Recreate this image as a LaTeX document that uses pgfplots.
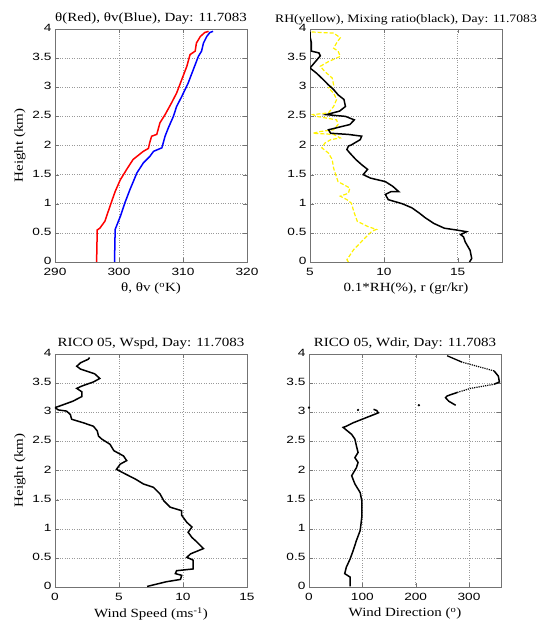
\documentclass[border=0pt]{standalone}
\usepackage{fontspec}
\setmainfont{Liberation Serif}[FakeStretch=1.2]
\setsansfont{Liberation Sans}[FakeStretch=1.3]
\usepackage{pgfplots}
\pgfplotsset{compat=1.18}

\pgfplotsset{
  sonde/.style={
    scale only axis, width=192pt, height=233pt, anchor=south west,
    ymin=0, ymax=4, ytick={0,0.5,...,4},
    yticklabels={0,0.5,1,1.5,2,2.5,3,3.5,4},
    grid=major,
    major grid style={dotted, draw=black!40, line width=0.5pt},
    axis line style={draw=black!55, line width=0.6pt},
    tick style={draw=black!55},
    tick align=inside, major tick length=4pt,
    tick label style={font=\sffamily\fontsize{10.5}{12}\selectfont},
    /pgf/number format/assume math mode=true,
    xticklabel style={yshift=-3pt},
    yticklabel style={yshift=1pt},
    label style={font=\fontsize{12.5}{14}\selectfont},
    title style={font=\fontsize{12.5}{14}\selectfont, yshift=-5pt},
  }
}

\begin{document}
\begin{tikzpicture}
\useasboundingbox (0,0) rectangle (541pt,622pt);

% potential temperature
\begin{axis}[sonde, at={(55pt,360pt)},
  xmin=290, xmax=320, xtick={290,300,310,320},
  title={θ(Red), θv(Blue), Day: 11.7083},
  xlabel={θ, θv (\textsuperscript{o}K)},
  ylabel={Height (km)}]
\addplot[red, line width=1.5pt] coordinates {
 (296.5,0) (296.6,0.55) (297.0,0.58) (297.8,0.70) (298.6,0.96) (299.4,1.21)
 (300.2,1.41) (301.2,1.59) (302.2,1.76) (303.8,1.90) (304.6,1.95) (304.8,2.05)
 (305.1,2.16) (305.9,2.19) (306.4,2.39) (307.2,2.53) (308.2,2.73) (309.0,2.90)
 (309.8,3.13) (310.6,3.36) (311.1,3.56) (311.9,3.62) (312.1,3.76) (312.7,3.87)
 (313.4,3.94) (314.0,3.96)};
\addplot[blue, line width=1.5pt] coordinates {
 (299.3,0) (299.4,0.56) (300.2,0.78) (300.9,1.01) (301.7,1.24) (302.8,1.53)
 (303.8,1.70) (304.8,1.81) (305.4,1.90) (306.7,1.96) (307.2,2.16) (307.7,2.30)
 (308.5,2.50) (309.0,2.67) (309.8,2.84) (310.8,3.07) (311.6,3.30) (312.4,3.53)
 (312.9,3.62) (313.2,3.76) (313.7,3.87) (314.2,3.94) (314.7,3.96)};
\end{axis}

% RH and mixing ratio
\begin{axis}[sonde, at={(310pt,360pt)},
  xmin=5, xmax=18, xtick={5,10,15},
  title style={font=\fontsize{11.4}{14}\selectfont},
  title={RH(yellow), Mixing ratio(black), Day: 11.7083},
  xlabel={0.1*RH(\%), r (gr/kr)}]
\addplot[yellow, line width=1.2pt, dash pattern=on 4pt off 2pt] coordinates {
 (7.6,0) (7.5,0.04) (7.95,0.21) (8.6,0.38) (9.2,0.53) (9.5,0.56) (8.9,0.61)
 (8.2,0.70) (8.0,0.84) (7.8,1.01) (7.5,1.07) (7.05,1.13) (7.6,1.18) (7.7,1.27)
 (6.9,1.38) (6.7,1.53) (6.6,1.61) (6.5,1.76) (6.25,1.87) (5.8,1.96) (6.0,2.04)
 (6.4,2.10) (7.05,2.13) (6.6,2.19) (5.2,2.21) (5.7,2.24) (6.6,2.27) (6.9,2.36)
 (6.8,2.44) (5.45,2.50) (5.2,2.53) (6.25,2.56) (6.6,2.67) (6.8,2.79) (6.6,2.90)
 (6.25,2.99) (6.6,3.04) (6.5,3.16) (6.0,3.27) (5.7,3.36) (6.25,3.44) (7.05,3.53)
 (6.9,3.62) (6.6,3.67) (6.8,3.76) (7.05,3.85) (6.6,3.93) (5.7,3.94) (5.1,3.95)};
\addplot[black, line width=1.5pt] coordinates {
 (15.8,0) (15.95,0.06) (15.84,0.20) (15.5,0.35) (15.4,0.43) (15.2,0.47) (15.6,0.52)
 (14.9,0.55) (14.1,0.58) (13.4,0.66) (12.8,0.76) (12.4,0.84) (11.9,0.93) (11.25,1.00)
 (10.3,1.07) (10.1,1.16) (10.5,1.21) (11.0,1.21) (10.6,1.30) (10.1,1.38)
 (9.1,1.44) (8.6,1.50) (8.9,1.59) (8.5,1.67) (8.1,1.76) (7.7,1.87) (7.5,1.93)
 (7.6,1.99) (7.8,2.01) (8.4,2.10) (8.5,2.16) (7.6,2.19) (6.4,2.21) (6.25,2.27)
 (7.7,2.36) (8.0,2.44) (7.4,2.50) (6.1,2.53) (7.0,2.59) (7.4,2.67) (7.3,2.79)
 (6.9,2.87) (6.6,2.96) (6.25,3.04) (5.9,3.13) (5.45,3.24) (5.0,3.33) (5.3,3.42)
 (5.7,3.54) (5.6,3.59) (5.1,3.62) (5.1,3.76) (5.0,3.87) (5.0,3.95)};
\end{axis}

% wind speed
\begin{axis}[sonde, at={(55pt,35pt)},
  xmin=0, xmax=15, xtick={0,5,10,15},
  title={RICO 05, Wspd, Day: 11.7083},
  xlabel={Wind Speed (ms\textsuperscript{-1})},
  ylabel={Height (km)}]
\addplot[black, line width=1.5pt] coordinates {
 (7.2,0.01) (8.7,0.09) (9.8,0.13) (9.9,0.20) (9.4,0.23) (9.5,0.28) (10.8,0.31)
 (10.8,0.46) (10.3,0.51) (10.6,0.57) (11.6,0.66) (11.1,0.77) (10.7,0.85)
 (10.4,0.94) (10.7,1.03) (10.3,1.11) (9.9,1.23) (9.9,1.31) (9.0,1.37) (8.5,1.48)
 (8.2,1.60) (7.7,1.71) (6.9,1.77) (6.3,1.85) (5.5,1.94) (4.8,2.02) (5.1,2.11)
 (5.6,2.17) (5.35,2.25) (4.6,2.34) (4.3,2.45) (3.65,2.54) (3.4,2.59) (3.3,2.68)
 (3.0,2.76) (2.2,2.82) (1.3,2.88) (1.2,2.96) (0.9,3.02) (0.26,3.04) (0,3.08)
 (0.4,3.11) (1.4,3.19) (2.1,3.27) (2.1,3.35) (1.7,3.41) (2.1,3.45) (3.0,3.52)
 (3.5,3.58) (3.1,3.66) (2.0,3.74) (1.7,3.79) (2.0,3.85) (2.6,3.91) (2.7,3.94)};
\end{axis}

% wind direction
\begin{axis}[sonde, at={(309pt,35pt)},
  xmin=0, xmax=360, xtick={0,100,200,300},
  title={RICO 05, Wdir, Day: 11.7083},
  xlabel={Wind Direction (\textsuperscript{o})}]
\addplot[black, line width=1.5pt] coordinates {
 (77,0.01) (77,0.17) (67,0.23) (70,0.34) (77,0.48) (83,0.63) (89,0.80) (96,0.97)
 (99,1.20) (99,1.48) (96,1.62) (86,1.77) (80,1.91) (89,2.05) (92,2.14) (86,2.22)
 (92,2.31) (89,2.42) (86,2.54) (80,2.62) (64,2.74) (70,2.76) (83,2.82) (108,2.91)
 (130,2.99) (127,3.03) (121,3.05)};
\addplot[black, line width=1.5pt] coordinates {
 (275,3.12) (262,3.19) (256,3.25) (259,3.28) (278,3.34)};
\addplot[black, line width=1.2pt, densely dotted] coordinates {
 (278,3.34) (303,3.41) (347,3.48)};
\addplot[black, line width=1.5pt] coordinates {
 (347,3.48) (357,3.52) (355,3.62) (347,3.71)};
\addplot[black, line width=1.2pt, densely dotted] coordinates {
 (347,3.71) (303,3.82) (287,3.86)};
\addplot[black, line width=1.3pt] coordinates {
 (287,3.86) (259,3.97)};
\addplot[black, only marks, mark=*, mark size=0.9pt] coordinates {
 (0,3.08) (92,3.04) (206,3.12)};
\end{axis}
\end{tikzpicture}
\end{document}
